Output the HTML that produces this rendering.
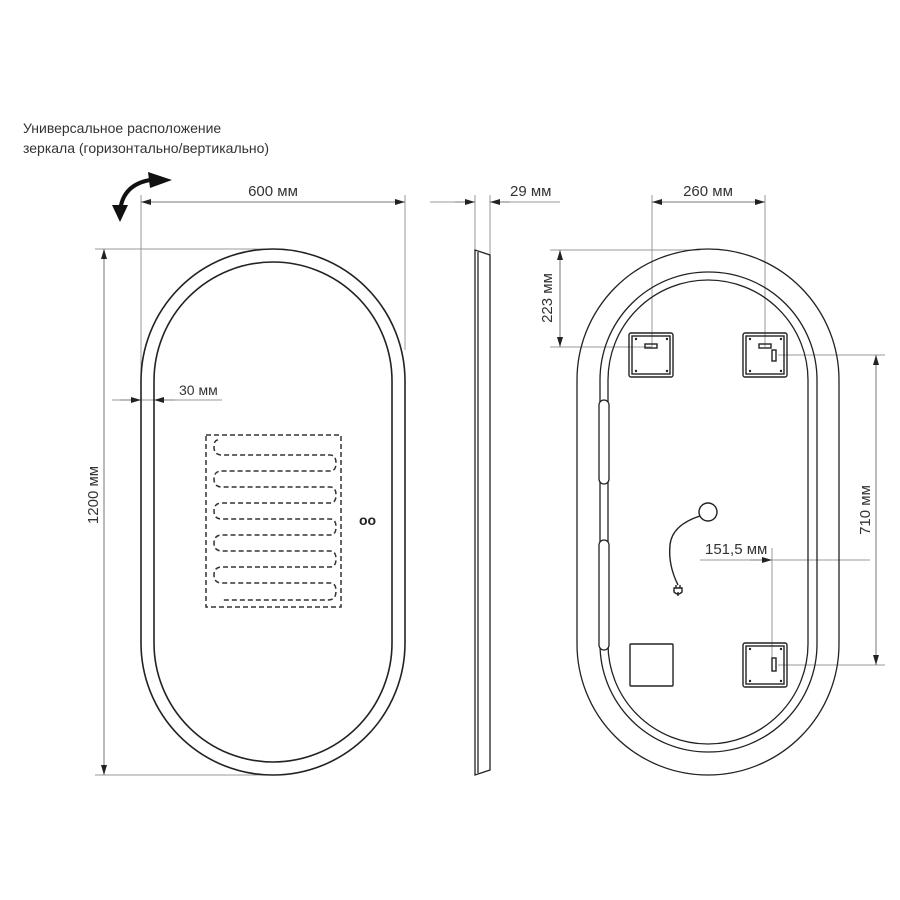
<!DOCTYPE html>
<html><head><meta charset="utf-8"><style>
html,body{margin:0;padding:0;background:#fff;}
svg{display:block}
text{font-family:"Liberation Sans Narrow","Liberation Sans",sans-serif;fill:#333;}
</style></head><body>
<svg width="900" height="900" viewBox="0 0 900 900" xmlns="http://www.w3.org/2000/svg">
<defs>
<marker id="a" viewBox="0 0 10 6" refX="10" refY="3" markerWidth="10" markerHeight="6" orient="auto-start-reverse" markerUnits="userSpaceOnUse"><path d="M0,0 L10,3 L0,6z" fill="#222"/></marker>
</defs>
<text x="23" y="133" font-size="14">Универсальное расположение</text>
<text x="23" y="153" font-size="14">зеркала (горизонтально/вертикально)</text>
<!-- rotate arrow -->
<path d="M120,212 Q122,185 150,180" fill="none" stroke="#111" stroke-width="4"/>
<path d="M148,172 L172,180 L150,188z" fill="#111"/>
<path d="M112,205 L128,205 L120,222z" fill="#111"/>

<g stroke="#999" stroke-width="1" fill="none">
<!-- front dims -->
<line x1="141" y1="195" x2="141" y2="400"/>
<line x1="405" y1="195" x2="405" y2="350"/>
<line x1="95" y1="249" x2="270" y2="249"/>
<line x1="95" y1="775" x2="270" y2="775"/>
<line x1="112" y1="400" x2="222" y2="400"/>
<!-- side -->
<line x1="430" y1="202" x2="475" y2="202"/>
<line x1="490" y1="202" x2="560" y2="202"/>
<line x1="475" y1="195" x2="475" y2="250"/>
<line x1="490" y1="195" x2="490" y2="255"/>
<!-- back -->
<line x1="652" y1="195" x2="652" y2="347"/>
<line x1="765" y1="195" x2="765" y2="347"/>
<line x1="550" y1="250" x2="700" y2="250"/>
<line x1="550" y1="347" x2="652" y2="347"/>
<line x1="778" y1="355" x2="885" y2="355"/>
<line x1="778" y1="665" x2="885" y2="665"/>
<line x1="700" y1="560" x2="870" y2="560"/>
<line x1="772" y1="548" x2="772" y2="665"/>
</g>
<g stroke="#777" stroke-width="1" fill="none">
<line x1="141" y1="202" x2="405" y2="202" marker-start="url(#a)" marker-end="url(#a)"/>
<line x1="104" y1="249" x2="104" y2="775" marker-start="url(#a)" marker-end="url(#a)"/>
<line x1="120" y1="400" x2="141" y2="400" marker-end="url(#a)"/>
<line x1="175" y1="400" x2="154" y2="400" marker-end="url(#a)"/>
<line x1="455" y1="202" x2="475" y2="202" marker-end="url(#a)"/>
<line x1="510" y1="202" x2="490" y2="202" marker-end="url(#a)"/>
<line x1="652" y1="202" x2="765" y2="202" marker-start="url(#a)" marker-end="url(#a)"/>
<line x1="560" y1="250" x2="560" y2="347" marker-start="url(#a)" marker-end="url(#a)"/>
<line x1="876" y1="355" x2="876" y2="665" marker-start="url(#a)" marker-end="url(#a)"/>
<line x1="750" y1="560" x2="772" y2="560" marker-end="url(#a)"/>
</g>
<g font-size="15">
<text x="273" y="196" text-anchor="middle">600 мм</text>
<text x="179" y="395" font-size="14">30 мм</text>
<text x="510" y="196">29 мм</text>
<text x="708" y="196" text-anchor="middle">260 мм</text>
<text x="705" y="554">151,5 мм</text>
<text transform="translate(98,495) rotate(-90)" text-anchor="middle">1200 мм</text>
<text transform="translate(552,298) rotate(-90)" text-anchor="middle">223 мм</text>
<text transform="translate(870,510) rotate(-90)" text-anchor="middle">710 мм</text>
</g>

<!-- front mirror -->
<g fill="none" stroke="#222" stroke-width="1.6">
<rect x="141" y="249" width="264" height="526" rx="132" ry="132"/>
<rect x="154" y="262" width="238" height="500" rx="119" ry="119"/>
</g>
<rect x="206" y="435" width="135" height="172" fill="none" stroke="#333" stroke-width="1.5" stroke-dasharray="5,3"/>
<path d="M218,440 Q214,440 214,447 Q214,455 222,455 L330,455 Q336,455 336,463 Q336,471 330,471 L222,471 Q214,471 214,479 Q214,487 222,487 L330,487 Q336,487 336,495 Q336,503 330,503 L222,503 Q214,503 214,511 Q214,519 222,519 L330,519 Q336,519 336,527 Q336,535 330,535 L222,535 Q214,535 214,543 Q214,551 222,551 L330,551 Q336,551 336,559 Q336,567 330,567 L222,567 Q214,567 214,575 Q214,583 222,583 L330,583 Q336,583 336,591 Q336,600 328,600 L222,600" fill="none" stroke="#333" stroke-width="1.5" stroke-dasharray="5,3"/>
<text x="359" y="525" font-size="14" font-weight="bold" style="fill:#222">oo</text>

<!-- side view -->
<path d="M475,250 L475,775 L490,770 L490,255 Z" fill="none" stroke="#222" stroke-width="1.3"/>
<line x1="478" y1="252" x2="478" y2="773" stroke="#222" stroke-width="1.3"/>

<!-- back view -->
<g fill="none" stroke="#222" stroke-width="1.3">
<rect x="577" y="249" width="262" height="526" rx="131" ry="131"/>
<rect x="600" y="272" width="217" height="480" rx="108" ry="108"/>
<rect x="608" y="280" width="200" height="464" rx="100" ry="100"/>
</g>
<rect x="599" y="400" width="10" height="84" rx="5" fill="#fff" stroke="#222" stroke-width="1.3"/>
<rect x="599" y="540" width="10" height="110" rx="5" fill="#fff" stroke="#222" stroke-width="1.3"/>
<g fill="none" stroke="#222" stroke-width="1.4">
<rect x="629" y="333" width="44" height="44" rx="2"/><rect x="632" y="336" width="38" height="38"/>
<rect x="743" y="333" width="44" height="44" rx="2"/><rect x="746" y="336" width="38" height="38"/>
<rect x="743" y="643" width="44" height="44" rx="2"/><rect x="746" y="646" width="38" height="38"/>
<rect x="630" y="644" width="43" height="42" rx="1"/>
<rect x="645" y="344" width="12" height="4"/>
<rect x="759" y="344" width="12" height="4"/>
<rect x="772" y="350" width="4" height="11"/>
<rect x="772" y="658" width="4" height="13"/>
<circle cx="708" cy="512" r="9"/>
<path d="M700,516 Q672,525 670,545 Q668,565 678,585"/>
<path d="M674,588 h8 v4 q-4,4 -8,0 z M676,588 v-3 M680,588 v-3 M678,592 v4"/>
</g>
<g fill="#222">
<circle cx="636" cy="339" r="1.2"/><circle cx="667" cy="339" r="1.2"/><circle cx="636" cy="371" r="1.2"/><circle cx="667" cy="371" r="1.2"/>
<circle cx="750" cy="339" r="1.2"/><circle cx="781" cy="339" r="1.2"/><circle cx="750" cy="371" r="1.2"/><circle cx="781" cy="371" r="1.2"/>
<circle cx="750" cy="649" r="1.2"/><circle cx="781" cy="649" r="1.2"/><circle cx="750" cy="681" r="1.2"/><circle cx="781" cy="681" r="1.2"/>
</g>
</svg>
</body></html>
